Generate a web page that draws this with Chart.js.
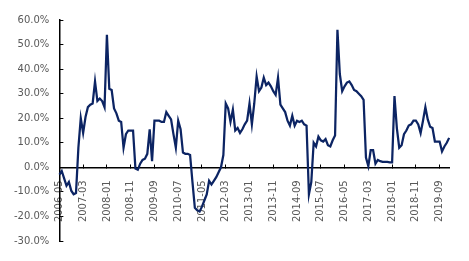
<!DOCTYPE html>
<html>
<head>
<meta charset="utf-8">
<script src="https://cdn.jsdelivr.net/npm/chart.js@4/dist/chart.umd.min.js"></script>
<style>
  html, body { margin: 0; padding: 0; background: #fff; }
  #wrap { width: 469px; height: 261px; }
</style>
</head>
<body>
<div id="wrap"><canvas id="c"></canvas></div>
<script>
// monthly series, first month 2006-05
const startYear = 2006, startMonth = 5;
const values = [
  -3, -1.5, -4.5, -7.5, -6, -9.5, -11, -10.5, 8, 20,
  14, 20.5, 24.5, 25.5, 26, 35, 27, 28, 27, 24.5,
  54, 32, 31.5, 24, 22, 19, 18.5, 8, 13.5, 15,
  15, 15, -0.5, -1, 1.5, 3, 3.5, 5.5, 15.5, 2.5,
  19, 19, 19, 18.5, 18.5, 22.5, 21, 19.5, 13.5, 8,
  19, 15.5, 6, 5.5, 5.5, 5, -6, -16.5, -17.5, -18,
  -16, -13.5, -11, -5.5, -7, -5.5, -4, -2, 0, 5,
  26, 24, 18.5, 23.5, 15, 16, 14, 15.5, 17.5, 19,
  26, 17.5, 26, 37, 31, 32.5, 36.5, 33.5, 34.5, 33,
  31, 29.5, 36.5, 25.5, 24, 22.5, 19, 17, 21, 17,
  19, 18.5, 19, 17.5, 17, -11, -6, 10, 8.5, 12.5,
  11, 10.5, 11.5, 9, 8.5, 11, 13, 56, 38, 31,
  33, 34.5, 35, 33.5, 31.5, 31, 30, 29, 27.5, 4,
  0.5, 7, 7, 1.5, 3, 2.5, 2.2, 2.2, 2.2, 2,
  2, 29, 16, 8, 9, 13.5, 15, 17, 17.5, 19,
  19, 17.5, 14, 19, 24.5, 19.5, 16.5, 16, 10.5, 10.5,
  10.5, 6.5, 8.5, 10, 12
];
const tickEvery = 10;   // one x label every 10 months
const yMin = -30, yMax = 60, yStep = 10;

const months = values.map((_, i) => {
  const m = startMonth - 1 + i;
  return (startYear + Math.floor(m / 12)) + '-' + String(m % 12 + 1).padStart(2, '0');
});

const font = { family: 'DejaVu Sans', size: 10 };

new Chart(document.getElementById('c'), {
  type: 'line',
  data: {
    labels: months,
    datasets: [{
      data: values,
      borderColor: '#0c2463',
      borderWidth: 2.25,
      pointRadius: 0,
      tension: 0,
      fill: false
    }]
  },
  options: {
    responsive: true,
    maintainAspectRatio: false,
    animation: false,
    layout: { padding: { left: 0, right: 15, top: 18, bottom: 20 } },
    plugins: { legend: { display: false }, tooltip: { enabled: false } },
    scales: {
      x: {
        type: 'category',
        position: { y: 0 },
        offset: false,
        grid: { drawOnChartArea: false, tickLength: -4, tickColor: '#000', tickWidth: 1 },
        border: { color: '#000', width: 1.5 },
        ticks: {
          autoSkip: false, minRotation: 90, maxRotation: 90,
          padding: 17, color: '#595959', font: font
        },
        afterBuildTicks: s => { s.ticks = s.ticks.filter((t, i) => i % tickEvery === 0); },
        afterFit: s => { s.height = 0; }
      },
      y: {
        min: yMin, max: yMax,
        grid: { drawOnChartArea: false, tickLength: -4, tickColor: '#000', tickWidth: 1 },
        border: { color: '#000', width: 1.5 },
        ticks: {
          stepSize: yStep, padding: 14, color: '#595959', font: font,
          callback: v => v.toFixed(1) + '%'
        }
      }
    }
  }
});
</script>
</body>
</html>
